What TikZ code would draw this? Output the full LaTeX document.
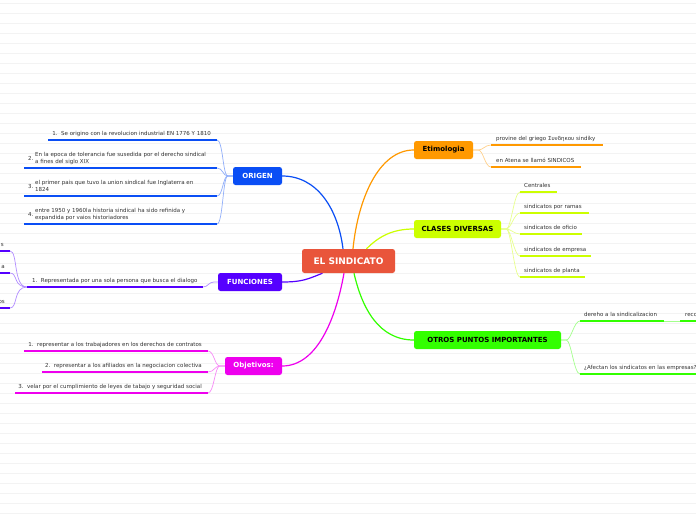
\documentclass[tikz,border=0pt]{standalone}
\usepackage{fontspec}
\setmainfont{DejaVu Sans}
\usetikzlibrary{backgrounds}
\definecolor{cmain}{HTML}{E9553B}
\definecolor{cblue}{HTML}{0A4EF5}
\definecolor{cpurp}{HTML}{5500FF}
\definecolor{cmag}{HTML}{EE00EE}
\definecolor{corange}{HTML}{FF9900}
\definecolor{cyel}{HTML}{CCFF00}
\definecolor{cgreen}{HTML}{33FF00}
\definecolor{cbg}{HTML}{F3F3F3}
\definecolor{ctext}{HTML}{333333}
\begin{document}
\begin{tikzpicture}[x=1pt,y=-1pt,
  topic/.style={rounded corners=2.5pt, minimum height=18pt, inner sep=0pt,
    font=\fontsize{7}{8}\selectfont\bfseries, fill=#1},
  leaf/.style={inner sep=0pt, font=\fontsize{5.5}{7}\selectfont, text=ctext},
  ul/.style={line width=2.4pt, #1},
  branch/.style={line width=1.2pt, #1},
  sub/.style={line width=0.7pt, #1!45},
]
\clip (0,0) rectangle (696,520);
\useasboundingbox (0,0) rectangle (696,520);

% topics
\node[topic=cmain, minimum width=93pt, minimum height=24pt, text=white,
  font=\fontsize{9}{10}\selectfont\bfseries] (main) at (348.5,261) {EL SINDICATO};
\node[topic=cblue, minimum width=49pt, text=white] (origen) at (257.5,176) {ORIGEN};
\node[topic=cpurp, minimum width=64pt, text=white] (func) at (250,282) {FUNCIONES};
\node[topic=cmag, minimum width=57pt, text=white] (obj) at (253.5,366) {Objetivos:};
\node[topic=corange, minimum width=59pt, text=black] (etim) at (443.5,150) {Etimologia};
\node[topic=cyel, minimum width=87pt, text=black] (clases) at (457.5,229) {CLASES DIVERSAS};
\node[topic=cgreen, minimum width=147pt, text=black] (otros) at (487.5,340) {OTROS PUNTOS IMPORTANTES};

% ORIGEN leaves
\coordinate (o1a) at (48,140);  \coordinate (o1b) at (217,140);
\coordinate (o2a) at (24,168);  \coordinate (o2b) at (217,168);
\coordinate (o3a) at (24,196);  \coordinate (o3b) at (217,196);
\coordinate (o4a) at (24,224);  \coordinate (o4b) at (217,224);
\node[leaf, anchor=base east] (o1) at (211,135.5) {1.~~Se origino con la revolucion industrial EN 1776 Y 1810};
\node[leaf, anchor=base west] (o2) at (28,163.5) {\raisebox{3.5pt}{2.}~\begin{tabular}[b]{@{}l@{}}En la epoca de tolerancia fue susedida por el derecho sindical\\a fines del siglo XIX\end{tabular}};
\node[leaf, anchor=base west] (o3) at (28,191.5) {\raisebox{3.5pt}{3.}~\begin{tabular}[b]{@{}l@{}}el primer pais que tuvo la union sindical fue Inglaterra en\\1824\end{tabular}};
\node[leaf, anchor=base west] (o4) at (28,219.5) {\raisebox{3.5pt}{4.}~\begin{tabular}[b]{@{}l@{}}entre 1950 y 1960la historia sindical ha sido refinida y\\expandida por vaios historiadores\end{tabular}};

% FUNCIONES leaves
\coordinate (f1a) at (27,287); \coordinate (f1b) at (203,287);
\node[leaf, anchor=base west] (f1) at (32,282.5) {1.~~Representada por una sola persona que busca el dialogo};
\coordinate (g1a) at (-5,251); \coordinate (g1b) at (10,251);
\coordinate (g2a) at (-5,273); \coordinate (g2b) at (10,273);
\coordinate (g3a) at (-5,308); \coordinate (g3b) at (10,308);
\node[leaf, anchor=base east] (g1) at (4,246.5) {s};
\node[leaf, anchor=base east] (g2) at (5,268) {a};
\node[leaf, anchor=base east] (g3) at (5,303.5) {os};

% Objetivos leaves
\coordinate (b1a) at (24,351); \coordinate (b1b) at (208,351);
\coordinate (b2a) at (42,372); \coordinate (b2b) at (208,372);
\coordinate (b3a) at (15,393); \coordinate (b3b) at (208,393);
\node[leaf, anchor=base east] (b1) at (202,346.5) {1.~~representar a los trabajadores en los derechos de contratos};
\node[leaf, anchor=base east] (b2) at (202,367.5) {2.~~representar a los afiliados en la negociacion colectiva};
\node[leaf, anchor=base east] (b3) at (202,388.5) {3.~~velar por el cumplimiento de leyes de tabajo y seguridad social};

% Etimologia leaves
\coordinate (e1a) at (491,145); \coordinate (e1b) at (603,145);
\coordinate (e2a) at (491,167); \coordinate (e2b) at (581,167);
\node[leaf, anchor=base west] (e1) at (496,140.5) {provine del griego Συνδηκου sindiky};
\node[leaf, anchor=base west] (e2) at (496,162.5) {en Atena se llamó SINDICOS};

% CLASES leaves
\coordinate (c1a) at (520,192); \coordinate (c1b) at (557,192);
\coordinate (c2a) at (520,213); \coordinate (c2b) at (589,213);
\coordinate (c3a) at (520,234); \coordinate (c3b) at (582,234);
\coordinate (c4a) at (520,256); \coordinate (c4b) at (591,256);
\coordinate (c5a) at (520,277); \coordinate (c5b) at (585,277);
\node[leaf, anchor=base west] (c1) at (524,187.5) {Centrales};
\node[leaf, anchor=base west] (c2) at (524,208.5) {sindicatos por ramas};
\node[leaf, anchor=base west] (c3) at (524,229.5) {sindicatos de oficio};
\node[leaf, anchor=base west] (c4) at (524,251.5) {sindicatos de empresa};
\node[leaf, anchor=base west] (c5) at (524,272.5) {sindicatos de planta};

% OTROS leaves
\coordinate (t1a) at (580,321); \coordinate (t1b) at (664,321);
\coordinate (t3a) at (680,321); \coordinate (t3b) at (700,321);
\coordinate (t2a) at (580,374); \coordinate (t2b) at (700,374);
\node[leaf, anchor=base west] (t1) at (584,316.5) {dereho a la sindicalizacion};
\node[leaf, anchor=base west] (t3) at (685,316.5) {reco};
\node[leaf, anchor=base west] (t2) at (584,369.5) {¿Afectan los sindicatos en las empresas?};

\begin{pgfonlayer}{background}
  \fill[white] (0,0) rectangle (696,520);
  \foreach \i in {0,...,51} \draw[cbg, line width=0.9pt] (0,3.3+10*\i) -- (696,3.3+10*\i);
  % main branches
  \draw[branch=cblue] ([xshift=-5.5pt]main.north) .. controls +(-5,-40) and +(35,0) .. (origen.east);
  \draw[branch=corange] ([xshift=4.5pt]main.north) .. controls +(5,-50) and +(-35,0) .. (etim.west);
  \draw[branch=cyel] ([xshift=18pt]main.north) .. controls +(12,-12) and +(-22,0) .. (clases.west);
  \draw[branch=cpurp] ([xshift=-26pt]main.south) .. controls +(-15,6) and +(20,0) .. (func.east);
  \draw[branch=cmag] ([xshift=-4.5pt]main.south) .. controls +(-8,45) and +(35,0) .. (obj.east);
  \draw[branch=cgreen] ([xshift=5.5pt]main.south) .. controls +(8,35) and +(-35,0) .. (otros.west);
  % sub connectors
  \foreach \t in {o1b,o2b,o3b,o4b}
    \draw[sub=cblue] (origen.west) -- ++(-5,0) .. controls +(-5,0) and +(6,0) .. (\t);
  \draw[sub=cpurp] (func.west) -- ++(-4,0) .. controls +(-5,0) and +(5,0) .. (f1b);
  \foreach \t in {g1b,g2b,g3b}
    \draw[sub=cpurp] (f1a) .. controls +(-14,0) and +(8,0) .. (\t);
  \foreach \t in {b1b,b2b,b3b}
    \draw[sub=cmag] (obj.west) -- ++(-5,0) .. controls +(-5,0) and +(6,0) .. (\t);
  \foreach \t in {e1a,e2a}
    \draw[sub=corange] (etim.east) -- ++(5,0) .. controls +(5,0) and +(-6,0) .. (\t);
  \foreach \t in {c1a,c2a,c3a,c4a,c5a}
    \draw[sub=cyel] (clases.east) -- ++(5,0) .. controls +(5,0) and +(-6,0) .. (\t);
  \foreach \t in {t1a,t2a}
    \draw[sub=cgreen] (otros.east) -- ++(5,0) .. controls +(5,0) and +(-6,0) .. (\t);
  \draw[sub=cgreen] (t1b) -- (t3a);
\end{pgfonlayer}

% underlines
\draw[ul=cblue] (o1a) -- (o1b); \draw[ul=cblue] (o2a) -- (o2b);
\draw[ul=cblue] (o3a) -- (o3b); \draw[ul=cblue] (o4a) -- (o4b);
\draw[ul=cpurp] (f1a) -- (f1b);
\draw[ul=cpurp] (g1a) -- (g1b); \draw[ul=cpurp] (g2a) -- (g2b); \draw[ul=cpurp] (g3a) -- (g3b);
\draw[ul=cmag] (b1a) -- (b1b); \draw[ul=cmag] (b2a) -- (b2b); \draw[ul=cmag] (b3a) -- (b3b);
\draw[ul=corange] (e1a) -- (e1b); \draw[ul=corange] (e2a) -- (e2b);
\draw[ul=cyel] (c1a) -- (c1b); \draw[ul=cyel] (c2a) -- (c2b); \draw[ul=cyel] (c3a) -- (c3b);
\draw[ul=cyel] (c4a) -- (c4b); \draw[ul=cyel] (c5a) -- (c5b);
\draw[ul=cgreen] (t1a) -- (t1b); \draw[ul=cgreen] (t3a) -- (t3b); \draw[ul=cgreen] (t2a) -- (t2b);
\end{tikzpicture}
\end{document}
